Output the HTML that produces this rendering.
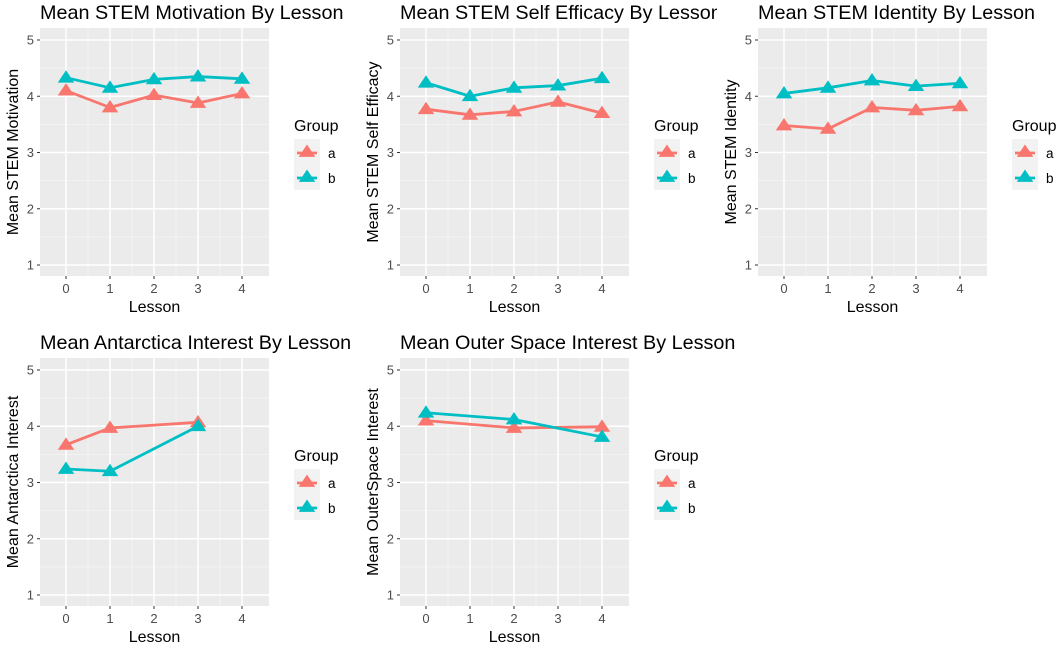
<!DOCTYPE html>
<html><head><meta charset="utf-8">
<style>
html,body{margin:0;padding:0;background:#fff;}
svg{display:block;font-family:"Liberation Sans",Arial,sans-serif;}
</style></head>
<body>
<svg id="chart" width="1059" height="649" viewBox="0 0 1059 649" xmlns="http://www.w3.org/2000/svg">
<defs><clipPath id="clipMid"><rect x="360" y="0" width="357" height="40"/></clipPath></defs>
</svg>
<script>
const lessons = [0, 1, 2, 3, 4];
const yTicks = [1, 2, 3, 4, 5];
const xTickLabels = ["0", "1", "2", "3", "4"];
const groups = ["a", "b"];

const motivX = [0, 1, 2, 3, 4];
const motivA = [4.10, 3.80, 4.02, 3.88, 4.05];
const motivB = [4.33, 4.15, 4.30, 4.35, 4.31];

const effX = [0, 1, 2, 3, 4];
const effA = [3.77, 3.67, 3.73, 3.90, 3.70];
const effB = [4.24, 4.00, 4.15, 4.19, 4.32];

const identX = [0, 1, 2, 3, 4];
const identA = [3.48, 3.42, 3.80, 3.75, 3.82];
const identB = [4.05, 4.15, 4.28, 4.18, 4.23];

const antX = [0, 1, 3];
const antA = [3.67, 3.97, 4.07];
const antB = [3.24, 3.20, 4.00];

const spaceX = [0, 2, 4];
const spaceA = [4.10, 3.97, 3.99];
const spaceB = [4.24, 4.12, 3.81];

const NS = "http://www.w3.org/2000/svg";
const svg = document.getElementById("chart");
const COLA = "#F8766D", COLB = "#00BFC4";

function mk(tag, attrs, parent) {
  const e = document.createElementNS(NS, tag);
  for (const k in attrs) e.setAttribute(k, attrs[k]);
  (parent || svg).appendChild(e);
  return e;
}
function tri(g, cx, cy, col) {
  const s = 7.5;
  return mk("polygon", {points: `${cx},${cy - s} ${cx - s * 1.1},${cy + s * 0.65} ${cx + s * 1.1},${cy + s * 0.65}`, fill: col}, g);
}

function panel(name, ox, oy, title, ytitle, xs, a, b, clip) {
  const g = mk("g", {});
  
  
  const L = 40 + ox, R = 269 + ox, T = 28 + oy, B = 276 + oy;
  const xS = v => 66 + ox + v * 44;
  const yS = v => 265 + oy - (v - 1) * 56.25;
  const bg = mk("rect", {x: L, y: T, width: R - L, height: B - T, fill: "#EBEBEB"}, g);
  
  
  for (let i = 0; i < yTicks.length - 1; i++) {
    const v = (yTicks[i] + yTicks[i + 1]) / 2;
    mk("line", {x1: L, x2: R, y1: yS(v), y2: yS(v), stroke: "#F5F5F5", "stroke-width": 0.8}, g);
  }
  for (let i = 0; i < lessons.length - 1; i++) {
    const v = (lessons[i] + lessons[i + 1]) / 2;
    mk("line", {x1: xS(v), x2: xS(v), y1: T, y2: B, stroke: "#F5F5F5", "stroke-width": 0.8}, g);
  }
  yTicks.forEach(v => {
    mk("line", {x1: L, x2: R, y1: yS(v), y2: yS(v), stroke: "#fff", "stroke-width": 1.5}, g);
    mk("line", {x1: L - 3, x2: L, y1: yS(v), y2: yS(v), stroke: "#333", "stroke-width": 1}, g);
    const t = mk("text", {x: L - 6, y: yS(v) + 4.5, "font-size": 13, fill: "#4D4D4D", "text-anchor": "end"}, g);
    t.textContent = v;
    
    
  });
  lessons.forEach((v, i) => {
    mk("line", {x1: xS(v), x2: xS(v), y1: T, y2: B, stroke: "#fff", "stroke-width": 1.5}, g);
    mk("line", {x1: xS(v), x2: xS(v), y1: B, y2: B + 3, stroke: "#333", "stroke-width": 1}, g);
    const t = mk("text", {x: xS(v), y: B + 17, "font-size": 13, fill: "#4D4D4D", "text-anchor": "middle"}, g);
    t.textContent = xTickLabels[i];
    
    
  });
  [[a, COLA, "series-a"], [b, COLB, "series-b"]].forEach(([vals, col, nm]) => {
    const pts = xs.map((x, i) => xS(x) + "," + yS(vals[i])).join(" ");
    const pl = mk("polyline", {points: pts, fill: "none", stroke: col, "stroke-width": 2.8, "stroke-linejoin": "round"}, g);
    
    
    xs.forEach((x, i) => {
      const p = tri(g, xS(x), yS(vals[i]), col);
      
      
    });
  });
  const tt = mk("text", {x: L, y: oy + 19, "font-size": 19.8, fill: "#000"}, g);
  tt.textContent = title;
  if (clip) tt.setAttribute("clip-path", "url(#clipMid)");
  
  
  const xt = mk("text", {x: (L + R) / 2, y: oy + 312, "font-size": 16, fill: "#000", "text-anchor": "middle"}, g);
  xt.textContent = "Lesson";
  
  
  const cy = (T + B) / 2;
  const yt = mk("text", {x: ox + 18, y: cy, "font-size": 16, fill: "#000", "text-anchor": "middle", transform: `rotate(-90 ${ox + 18} ${cy})`}, g);
  yt.textContent = ytitle;
  
  
  const lg = mk("g", {}, g);
  
  
  const lt = mk("text", {x: 294 + ox, y: oy + 131, "font-size": 16, fill: "#000"}, lg);
  lt.textContent = "Group";
  mk("rect", {x: 294 + ox, y: oy + 139, width: 26, height: 51, fill: "#F2F2F2"}, lg);
  [[COLA, groups[0], 153], [COLB, groups[1], 178]].forEach(([col, lab, yy]) => {
    const e = mk("g", {}, lg);
    
    
    mk("line", {x1: 297 + ox, x2: 317 + ox, y1: oy + yy, y2: oy + yy, stroke: col, "stroke-width": 2.8}, e);
    tri(e, 307 + ox, oy + yy - 1, col);
    const t = mk("text", {x: 328 + ox, y: oy + yy + 5, "font-size": 13.5, fill: "#000"}, e);
    t.textContent = lab;
  });
}

panel("panel-stem-motivation", 0, 0, "Mean STEM Motivation By Lesson", "Mean STEM Motivation", motivX, motivA, motivB);
panel("panel-stem-self-efficacy", 360, 0, "Mean STEM Self Efficacy By Lesson", "Mean STEM Self Efficacy", effX, effA, effB, true);
panel("panel-stem-identity", 718, 0, "Mean STEM Identity By Lesson", "Mean STEM Identity", identX, identA, identB);
panel("panel-antarctica-interest", 0, 330, "Mean Antarctica Interest By Lesson", "Mean Antarctica Interest", antX, antA, antB);
panel("panel-outer-space-interest", 360, 330, "Mean Outer Space Interest By Lesson", "Mean OuterSpace Interest", spaceX, spaceA, spaceB);
</script>
</body></html>
